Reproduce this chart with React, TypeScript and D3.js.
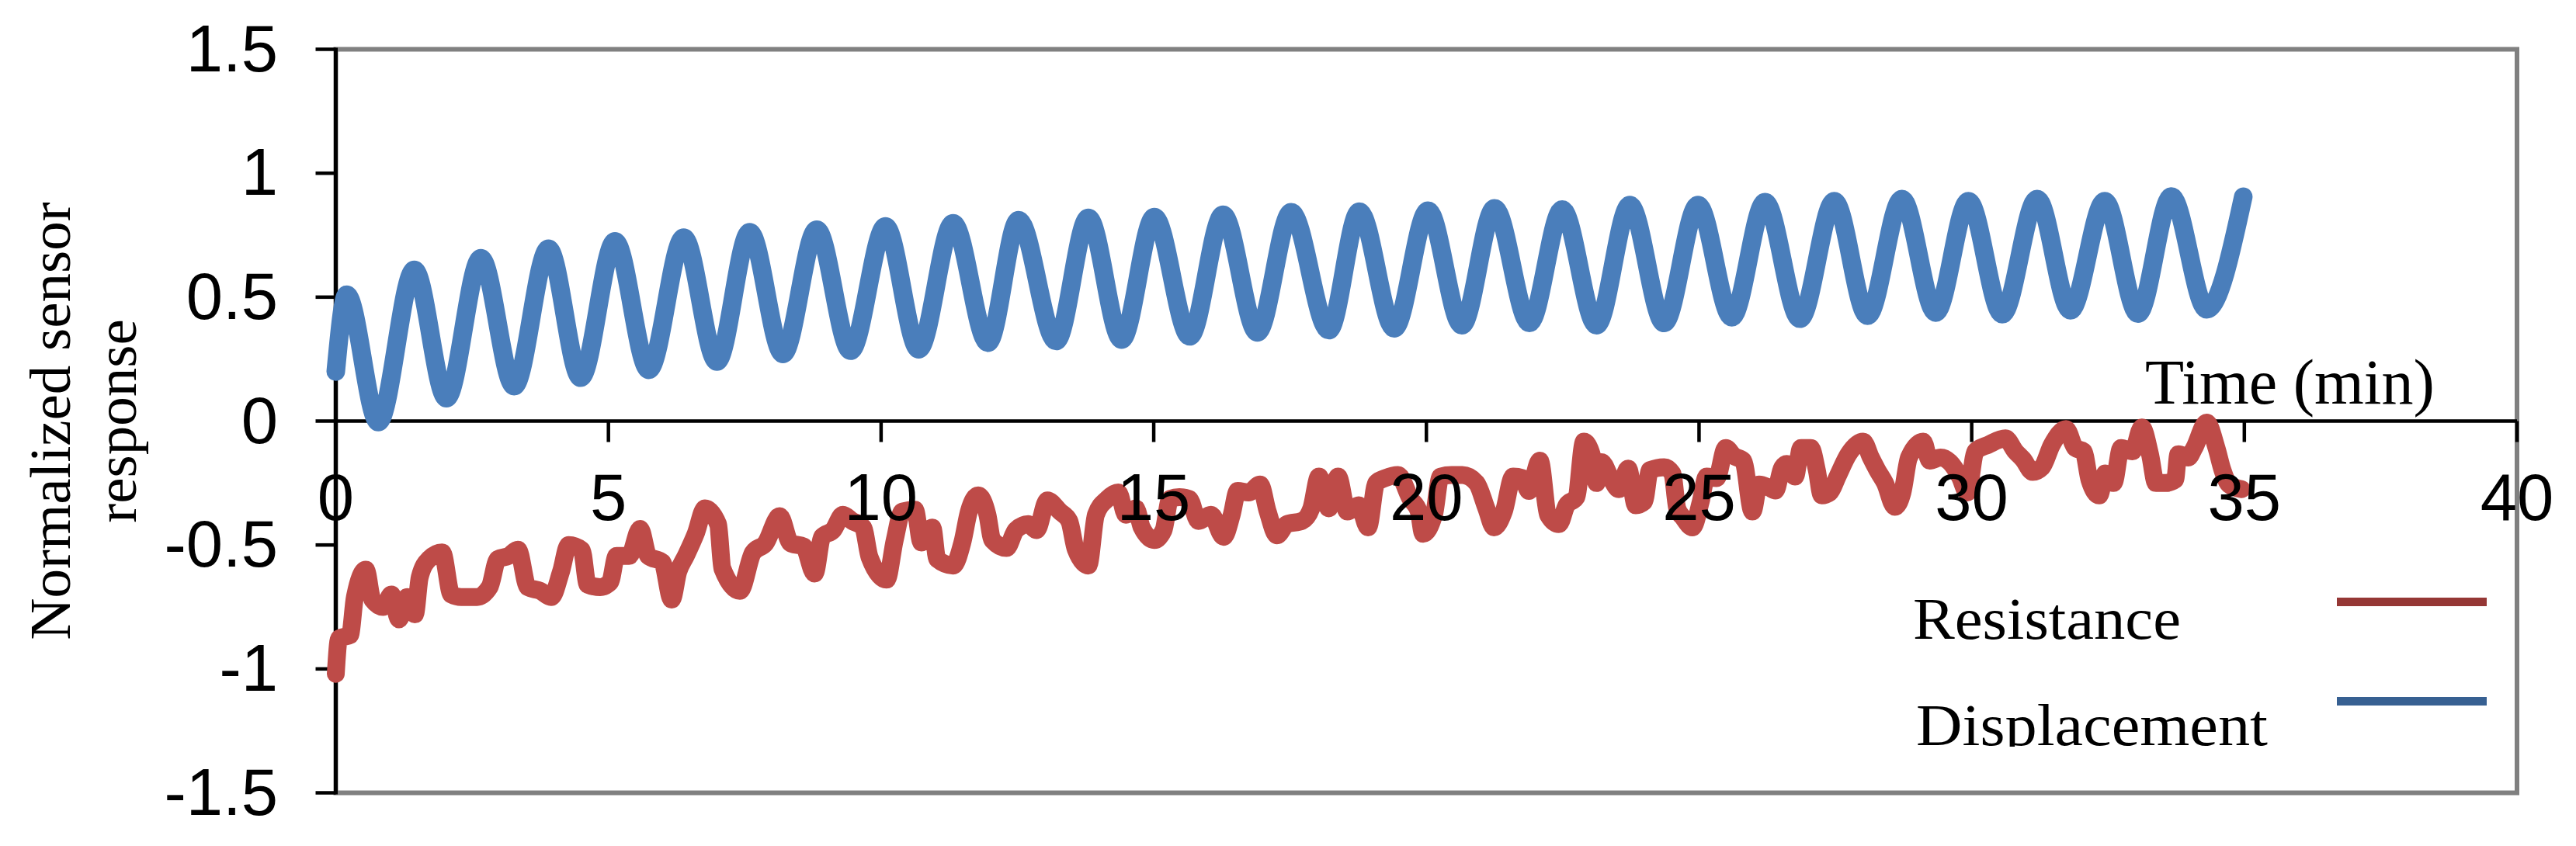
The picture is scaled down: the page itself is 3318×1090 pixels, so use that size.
import React from "react";
import * as d3 from "d3";

// ---- data ----
const dispTime = [0, 0.2, 0.78, 1.44, 2.03, 2.66, 3.27, 3.9, 4.49, 5.12, 5.74, 6.38, 6.99, 7.59, 8.2, 8.82, 9.44, 10.08, 10.69, 11.32, 11.96, 12.52, 13.21, 13.8, 14.41, 15.01, 15.66, 16.27, 16.9, 17.52, 18.21, 18.77, 19.41, 20.03, 20.65, 21.25, 21.89, 22.49, 23.12, 23.73, 24.36, 24.98, 25.6, 26.21, 26.85, 27.48, 28.09, 28.72, 29.34, 29.94, 30.56, 31.2, 31.81, 32.44, 33.05, 33.66, 34.31, 34.98];
const dispValue = [0.2, 0.51, -0.004, 0.61, 0.092, 0.657, 0.141, 0.695, 0.175, 0.725, 0.207, 0.74, 0.24, 0.762, 0.271, 0.772, 0.284, 0.785, 0.29, 0.798, 0.316, 0.81, 0.323, 0.82, 0.329, 0.823, 0.342, 0.832, 0.358, 0.842, 0.367, 0.845, 0.374, 0.849, 0.387, 0.858, 0.396, 0.853, 0.387, 0.871, 0.396, 0.871, 0.419, 0.883, 0.413, 0.887, 0.425, 0.896, 0.438, 0.887, 0.431, 0.896, 0.447, 0.887, 0.434, 0.906, 0.451, 0.905];

const resTime = [0, 0.06, 0.26, 0.35, 0.55, 0.67, 0.87, 1.02, 1.16, 1.31, 1.45, 1.54, 1.71, 1.95, 2.12, 2.3, 2.59, 2.82, 2.97, 3.17, 3.34, 3.52, 3.75, 3.95, 4.13, 4.27, 4.51, 4.62, 4.85, 5.03, 5.15, 5.38, 5.58, 5.73, 5.99, 6.16, 6.28, 6.42, 6.6, 6.77, 7.01, 7.09, 7.41, 7.65, 7.88, 8.14, 8.34, 8.58, 8.78, 8.92, 9.12, 9.3, 9.47, 9.67, 9.79, 10.1, 10.25, 10.39, 10.62, 10.74, 10.94, 11.03, 11.32, 11.49, 11.61, 11.78, 11.95, 12.04, 12.3, 12.47, 12.7, 12.85, 13.05, 13.28, 13.45, 13.57, 13.8, 13.94, 14.15, 14.35, 14.49, 14.67, 14.78, 15.01, 15.18, 15.3, 15.47, 15.65, 15.82, 16.05, 16.28, 16.43, 16.54, 16.74, 16.95, 17.09, 17.26, 17.44, 17.72, 17.89, 18.03, 18.21, 18.38, 18.55, 18.76, 18.93, 19.08, 19.25, 19.48, 19.71, 19.86, 19.94, 20.14, 20.26, 20.46, 20.66, 20.92, 21.1, 21.24, 21.42, 21.59, 21.76, 21.88, 22.08, 22.23, 22.43, 22.57, 22.75, 22.89, 23.03, 23.12, 23.21, 23.38, 23.53, 23.7, 23.84, 23.99, 24.1, 24.36, 24.51, 24.6, 24.71, 24.88, 25.03, 25.14, 25.32, 25.49, 25.64, 25.81, 25.98, 26.1, 26.3, 26.4, 26.52, 26.61, 26.76, 26.87, 27.05, 27.16, 27.25, 27.4, 27.54, 27.74, 28.01, 28.15, 28.27, 28.41, 28.59, 28.73, 28.85, 29.11, 29.23, 29.43, 29.6, 29.78, 29.92, 30.07, 30.3, 30.62, 30.8, 30.94, 31.12, 31.29, 31.47, 31.73, 31.9, 32.05, 32.16, 32.34, 32.45, 32.6, 32.74, 32.95, 33.12, 33.27, 33.38, 33.56, 33.73, 33.79, 33.97, 34.08, 34.31, 34.49, 34.6, 34.72, 34.95];
const resValue = [-1.02, -0.877, -0.864, -0.711, -0.6, -0.72, -0.75, -0.7, -0.8, -0.71, -0.78, -0.63, -0.557, -0.53, -0.7, -0.71, -0.71, -0.67, -0.557, -0.544, -0.519, -0.67, -0.685, -0.71, -0.608, -0.5, -0.52, -0.66, -0.67, -0.65, -0.544, -0.544, -0.435, -0.544, -0.57, -0.72, -0.608, -0.544, -0.455, -0.352, -0.416, -0.595, -0.685, -0.531, -0.493, -0.384, -0.493, -0.506, -0.615, -0.467, -0.44, -0.378, -0.403, -0.429, -0.55, -0.64, -0.48, -0.365, -0.358, -0.49, -0.43, -0.557, -0.583, -0.49, -0.365, -0.3, -0.378, -0.48, -0.512, -0.44, -0.416, -0.44, -0.32, -0.365, -0.403, -0.518, -0.583, -0.378, -0.314, -0.288, -0.378, -0.352, -0.429, -0.48, -0.44, -0.314, -0.307, -0.314, -0.403, -0.378, -0.467, -0.378, -0.282, -0.288, -0.256, -0.365, -0.461, -0.416, -0.403, -0.352, -0.224, -0.352, -0.224, -0.365, -0.34, -0.429, -0.25, -0.23, -0.218, -0.314, -0.365, -0.455, -0.378, -0.224, -0.218, -0.218, -0.25, -0.352, -0.429, -0.365, -0.224, -0.23, -0.282, -0.16, -0.378, -0.416, -0.34, -0.307, -0.083, -0.134, -0.25, -0.166, -0.23, -0.275, -0.192, -0.34, -0.326, -0.198, -0.186, -0.211, -0.352, -0.39, -0.429, -0.326, -0.224, -0.23, -0.109, -0.141, -0.16, -0.365, -0.256, -0.27, -0.28, -0.19, -0.173, -0.224, -0.109, -0.109, -0.198, -0.3, -0.288, -0.224, -0.134, -0.083, -0.147, -0.198, -0.25, -0.346, -0.288, -0.147, -0.083, -0.16, -0.147, -0.166, -0.224, -0.288, -0.122, -0.096, -0.07, -0.122, -0.154, -0.205, -0.186, -0.096, -0.032, -0.109, -0.122, -0.237, -0.3, -0.211, -0.25, -0.109, -0.122, -0.026, -0.134, -0.25, -0.25, -0.237, -0.134, -0.147, -0.109, -0.006, -0.109, -0.198, -0.256, -0.275];

const xTicks = [0, 5, 10, 15, 20, 25, 30, 35, 40];
const yTicks = [1.5, 1, 0.5, 0, -0.5, -1, -1.5];
const seriesNames = ["Resistance", "Displacement"];
const yTitleLines = ["Normalized sensor", "response"];
const xTitle = "Time (min)";

// ---- layout ----
const W = 3318;
const H = 1090;
const L = 432.5, R = 3242, T = 63.5, B = 1021.5;
const SANS = "'Liberation Sans', Arial, sans-serif";
const SERIF = "'Liberation Serif', 'Times New Roman', serif";
const BLUE = "#4A7EBB";
const RED = "#BE4B48";
const LEG_RED = "#953735";
const LEG_BLUE = "#376092";

export default function App() {
  const x = d3.scaleLinear().domain([0, 40]).range([L, R]);
  const y = d3.scaleLinear().domain([-1.5, 1.5]).range([B, T]);

  const line = d3
    .line<[number, number]>()
    .x((d) => x(d[0]))
    .y((d) => y(d[1]))
    .curve(d3.curveMonotoneX);

  const disp: [number, number][] = dispTime.map((t, i) => [t, dispValue[i]]);
  const res: [number, number][] = resTime.map((t, i) => [t, resValue[i]]);
  const y0 = y(0);

  return (
    <svg
      width={W}
      height={H}
      viewBox={`0 0 ${W} ${H}`}
      style={{ position: "absolute", left: 0, top: 0, background: "#fff" }}
    >
      <defs>
        <clipPath id="legclip">
          <rect x={2300} y={650} width={900} height={312} />
        </clipPath>
      </defs>
      <rect x={0} y={0} width={W} height={H} fill="#fff" />
      {/* plot frame */}
      <rect x={L} y={T} width={R - L} height={B - T} fill="none" stroke="#808080" strokeWidth={6} />

      {/* axis lines */}
      <line x1={L} x2={L} y1={T - 2} y2={B + 2} stroke="#000" strokeWidth={5} />
      <line x1={L} x2={R} y1={y0} y2={y0} stroke="#000" strokeWidth={4.5} />
      {yTicks.map((v) => (
        <line key={"yt" + v} x1={L - 26} x2={L} y1={y(v)} y2={y(v)} stroke="#000" strokeWidth={4.5} />
      ))}
      {xTicks.map((v) => (
        <line key={"xt" + v} x1={x(v)} x2={x(v)} y1={y0} y2={y0 + 27} stroke="#000" strokeWidth={4.5} />
      ))}

      {/* series */}
      <path d={line(disp) || ""} fill="none" stroke={BLUE} strokeWidth={24} strokeLinejoin="round" strokeLinecap="round" />
      <path d={line(res) || ""} fill="none" stroke={RED} strokeWidth={23} strokeLinejoin="round" strokeLinecap="round" />

      {/* tick labels */}
      {yTicks.map((v) => (
        <text key={"yl" + v} x={358} y={y(v) + 28} textAnchor="end" fontFamily={SANS} fontSize={85} fill="#000">
          {String(v)}
        </text>
      ))}
      {xTicks.map((v) => (
        <text key={"xl" + v} x={x(v)} y={670} textAnchor="middle" fontFamily={SANS} fontSize={85} fill="#000">
          {String(v)}
        </text>
      ))}

      {/* axis titles */}
      <text x={2763} y={520} fontFamily={SERIF} fontSize={82} fill="#000">
        {xTitle}
      </text>
      <g transform={`translate(0, ${(T + B) / 2}) rotate(-90)`}>
        <text x={0} y={89.5} textAnchor="middle" fontFamily={SERIF} fontSize={75} fill="#000">
          {yTitleLines[0]}
        </text>
        <text x={0} y={174.5} textAnchor="middle" fontFamily={SERIF} fontSize={75} fill="#000">
          {yTitleLines[1]}
        </text>
      </g>

      {/* legend */}
      <g clipPath="url(#legclip)">
        <text x={2464} y={823} fontFamily={SERIF} fontSize={76} textLength={345} lengthAdjust="spacingAndGlyphs" fill="#000">
          {seriesNames[0]}
        </text>
        <text x={2468} y={960} fontFamily={SERIF} fontSize={76} textLength={453} lengthAdjust="spacingAndGlyphs" fill="#000">
          {seriesNames[1]}
        </text>
      </g>
      <line x1={3010} x2={3203} y1={775.5} y2={775.5} stroke={LEG_RED} strokeWidth={11} />
      <line x1={3010} x2={3203} y1={903.5} y2={903.5} stroke={LEG_BLUE} strokeWidth={11} />
    </svg>
  );
}
